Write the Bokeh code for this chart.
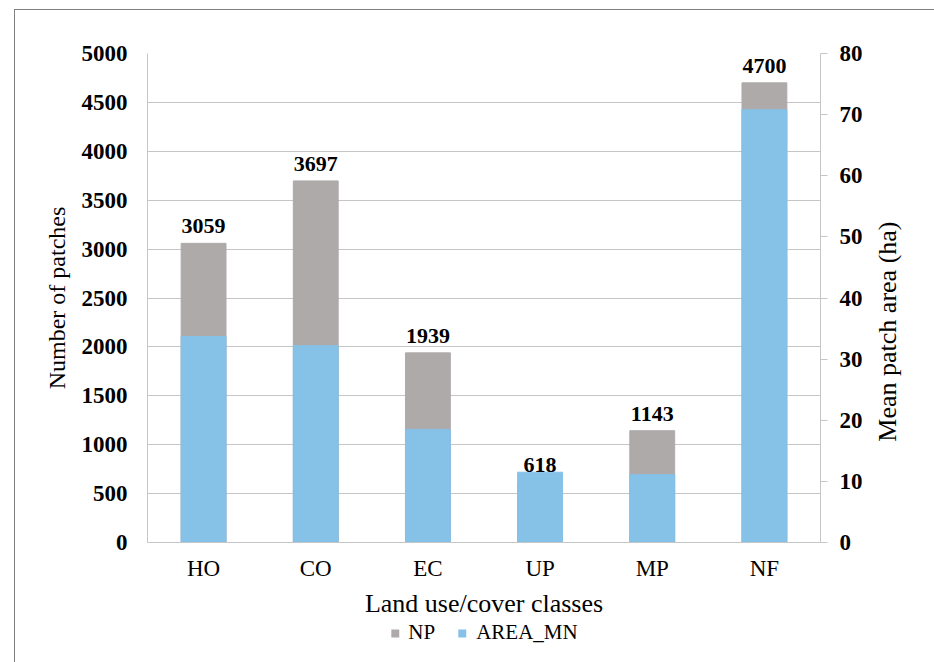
import math
from bokeh.plotting import figure
from bokeh.layouts import column
from bokeh.models import (ColumnDataSource, Range1d, FactorRange, LinearAxis,
                          Legend, LegendItem, FixedTicker)
from bokeh.core.properties import value
from bokeh.embed import file_html
from bokeh.resources import INLINE

categories = ["HO", "CO", "EC", "UP", "MP", "NF"]
np_values = [3059, 3697, 1939, 618, 1143, 4700]
area_mn = [33.7, 32.2, 18.5, 11.5, 11.1, 70.8]
left_ticks = [0, 500, 1000, 1500, 2000, 2500, 3000, 3500, 4000, 4500, 5000]
right_ticks = [0, 10, 20, 30, 40, 50, 60, 70, 80]
series_names = ["NP", "AREA_MN"]
right_title = "Mean patch area (ha)"

FONT = "Liberation Serif"
GRAY = "#AEAAAA"
BLUE = "#86C1E7"
GRID = "#C6C6C6"

src = ColumnDataSource(dict(cat=categories, np=np_values, area=area_mn,
                            lab=[str(v) for v in np_values]))

p = figure(x_range=FactorRange(*categories, range_padding=0),
           y_range=Range1d(0, 5000),
           width=919, height=610, output_backend="svg", toolbar_location=None,
           min_border_left=132, min_border_top=43, min_border_right=114,
           min_border_bottom=78)
p.extra_y_ranges = {"right": Range1d(0, 80)}
p.outline_line_color = None
p.background_fill_color = "white"
p.border_fill_color = "white"

r_np = p.vbar(x="cat", top="np", width=0.4, source=src, color=GRAY)
r_area = p.vbar(x="cat", top="area", width=0.4, source=src, color=BLUE,
                y_range_name="right")

p.text(x="cat", y="np", text="lab", source=src, text_align="center",
       text_baseline="bottom", y_offset=-10, text_font=value(FONT),
       text_font_style="bold", text_font_size="22px", text_color="#000000")

# grid
p.xgrid.visible = False
p.ygrid.ticker = FixedTicker(ticks=left_ticks)
p.ygrid.grid_line_color = GRID
p.ygrid.grid_line_width = 1

# x axis
xa = p.xaxis[0]
xa.axis_label = "Land use/cover classes"
xa.axis_label_text_font = FONT
xa.axis_label_text_font_style = "normal"
xa.axis_label_text_font_size = "26px"
xa.axis_label_text_color = "#000000"
xa.axis_label_standoff = 5
xa.major_label_text_font = FONT
xa.major_label_text_font_size = "23px"
xa.major_label_text_color = "#000000"
xa.major_label_standoff = 7
xa.major_tick_line_color = None
xa.axis_line_color = GRID

# left axis
ya = p.yaxis[0]
ya.ticker = FixedTicker(ticks=left_ticks)
ya.axis_label = "Number of patches"
ya.axis_label_text_font = FONT
ya.axis_label_text_font_style = "normal"
ya.axis_label_text_font_size = "24px"
ya.axis_label_text_color = "#000000"
ya.axis_label_standoff = 9
ya.major_label_text_font = FONT
ya.major_label_text_font_style = "bold"
ya.major_label_text_font_size = "23px"
ya.major_label_text_color = "#000000"
ya.major_label_standoff = 14
ya.major_tick_line_color = None
ya.minor_tick_line_color = None
ya.axis_line_color = GRID

# right axis
ra = LinearAxis(y_range_name="right", ticker=FixedTicker(ticks=right_ticks))
ra.major_label_text_font = FONT
ra.major_label_text_font_style = "bold"
ra.major_label_text_font_size = "23px"
ra.major_label_text_color = "#000000"
ra.major_label_standoff = 12
ra.major_tick_line_color = GRID
ra.major_tick_out = 7
ra.major_tick_in = 0
ra.minor_tick_line_color = None
ra.axis_line_color = GRID
p.add_layout(ra, "right")

# right-hand title as one rotated label reading bottom-to-top
TITLE_POS = 16.5  # anchor where the label starts, running upward
rt = LinearAxis(y_range_name="right", ticker=FixedTicker(ticks=[TITLE_POS]),
                major_label_overrides={TITLE_POS: right_title})
rt.major_label_orientation = math.pi / 2
rt.major_label_text_font = FONT
rt.major_label_text_font_size = "26px"
rt.major_label_text_color = "#000000"
rt.major_label_standoff = 16
rt.major_tick_line_color = None
rt.minor_tick_line_color = None
rt.axis_line_color = None
p.add_layout(rt, "right")

# legend strip below the chart (proxy renderers lie outside the visible range)
lf = figure(width=919, height=42, output_backend="svg", toolbar_location=None,
            x_range=Range1d(0, 1), y_range=Range1d(0, 1),
            x_axis_type=None, y_axis_type=None, min_border=0)
lf.outline_line_color = None
lf.xgrid.visible = False
lf.ygrid.visible = False
proxy = ColumnDataSource(dict(x=[-5.0], top=[-5.0]))
l_np = lf.vbar(x="x", top="top", bottom=-6.0, width=0.1, source=proxy,
               fill_color=GRAY, line_color=None)
l_area = lf.vbar(x="x", top="top", bottom=-6.0, width=0.1, source=proxy,
                 fill_color=BLUE, line_color=None)

legend = Legend(items=[LegendItem(label=series_names[0], renderers=[l_np]),
                       LegendItem(label=series_names[1], renderers=[l_area])],
                orientation="horizontal", location="top_center")
legend.label_text_font = FONT
legend.label_text_font_size = "21px"
legend.label_text_color = "#000000"
legend.glyph_width = 10
legend.glyph_height = 10
legend.label_standoff = 9
legend.spacing = 22
legend.border_line_color = None
legend.background_fill_alpha = 0
legend.padding = 2
legend.margin = 0
lf.add_layout(legend, "center")

layout = column(p, lf, spacing=0)
layout.margin = (9, 0, 0, 14)
layout.styles = {"border-top": "1px solid #7F7F7F", "border-left": "1px solid #7F7F7F"}

open("out.html", "w").write(file_html(layout, INLINE))
